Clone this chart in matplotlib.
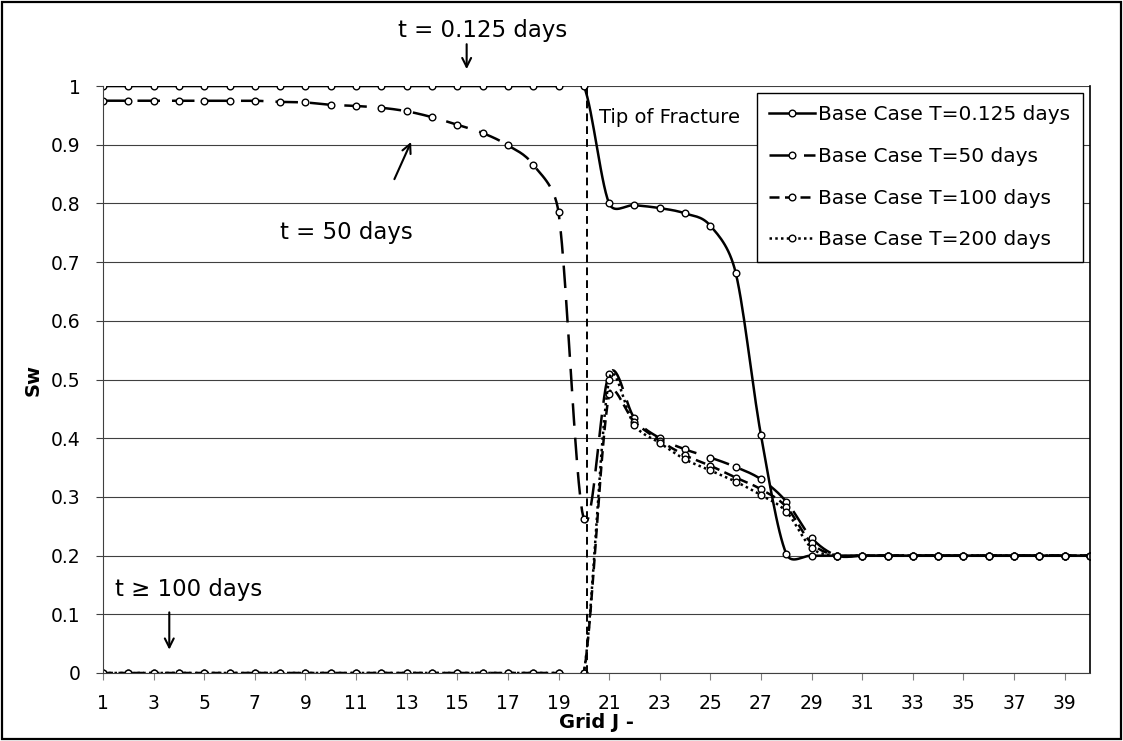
import numpy as np
import matplotlib.pyplot as plt
from matplotlib.patches import Rectangle

# water saturation along grid J for the base case at four times
grid_j = list(range(1, 41))

sw_t0125 = [1.000, 1.000, 1.000, 1.000, 1.000, 1.000, 1.000, 1.000, 1.000, 1.000,
            1.000, 1.000, 1.000, 1.000, 1.000, 1.000, 1.000, 1.000, 1.000, 1.000,
            0.800, 0.797, 0.792, 0.783, 0.762, 0.682, 0.405, 0.203, 0.200, 0.200,
            0.200, 0.200, 0.200, 0.200, 0.200, 0.200, 0.200, 0.200, 0.200, 0.200]

sw_t50 = [0.975, 0.975, 0.975, 0.975, 0.975, 0.975, 0.975, 0.973, 0.972, 0.968,
          0.966, 0.963, 0.957, 0.947, 0.934, 0.920, 0.899, 0.866, 0.785, 0.262,
          0.510, 0.434, 0.400, 0.381, 0.367, 0.351, 0.330, 0.292, 0.230, 0.200,
          0.200, 0.200, 0.200, 0.200, 0.200, 0.200, 0.200, 0.200, 0.200, 0.200]

sw_t100 = [0.000, 0.000, 0.000, 0.000, 0.000, 0.000, 0.000, 0.000, 0.000, 0.000,
           0.000, 0.000, 0.000, 0.000, 0.000, 0.000, 0.000, 0.000, 0.000, 0.000,
           0.475, 0.428, 0.396, 0.371, 0.353, 0.333, 0.313, 0.283, 0.221, 0.200,
           0.200, 0.200, 0.200, 0.200, 0.200, 0.200, 0.200, 0.200, 0.200, 0.200]

sw_t200 = [0.000, 0.000, 0.000, 0.000, 0.000, 0.000, 0.000, 0.000, 0.000, 0.000,
           0.000, 0.000, 0.000, 0.000, 0.000, 0.000, 0.000, 0.000, 0.000, 0.000,
           0.500, 0.422, 0.392, 0.364, 0.345, 0.326, 0.303, 0.275, 0.213, 0.200,
           0.200, 0.200, 0.200, 0.200, 0.200, 0.200, 0.200, 0.200, 0.200, 0.200]

labels = ["Base Case T=0.125 days", "Base Case T=50 days",
          "Base Case T=100 days", "Base Case T=200 days"]
fracture_tip = 20.12


def smooth(x, y, sx, sy, n=16):
    """Bezier through every point, spreadsheet style: tangent arms of 1/6 of
    the neighbour chord, capped at half the segment (measured on screen)"""
    x = np.asarray(x, float)
    y = np.asarray(y, float)
    P = np.column_stack([x, y])
    P = np.vstack([P[:1], P, P[-1:]])
    scale = np.array([sx, sy])
    t = np.linspace(0, 1, n)[:, None]
    xs, ys = [x[:1]], [y[:1]]

    def arm(a, b, seg):
        d = np.hypot(*((b - a) * scale))
        s = np.hypot(*(seg * scale))
        f = 1 / 6 if d / 6 < s / 2 else (s / (2 * d) if d > 0 else 0)
        return (b - a) * f

    for i in range(len(x) - 1):
        p0, p1, p2, p3 = P[i], P[i + 1], P[i + 2], P[i + 3]
        c1 = p1 + arm(p0, p2, p2 - p1)
        c2 = p2 - arm(p1, p3, p2 - p1)
        b = ((1 - t) ** 3) * p1 + 3 * ((1 - t) ** 2) * t * c1 + 3 * (1 - t) * t ** 2 * c2 + t ** 3 * p2
        xs.append(b[1:, 0])
        ys.append(b[1:, 1])
    return np.concatenate(xs), np.concatenate(ys), n - 1


fig = plt.figure(figsize=(11.23, 7.41), dpi=100)
ax = fig.add_axes([0.0917, 0.0918, 0.8789, 0.7921])
ax.set_xlim(1, 40)
ax.set_ylim(0, 1)

# pixels per category and per unit of Sw, for the smoothing
px_x = 0.8789 * 1123 / 39
px_y = 0.7921 * 741

styles = [dict(ls='-'), dict(dashes=(9, 4.8)), dict(dashes=(4, 2.2)), dict(dashes=(1, 1.3))]
for sw, lab, st in zip([sw_t0125, sw_t50, sw_t100, sw_t200], labels, styles):
    xs, ys, step = smooth(grid_j, sw, px_x, px_y)
    ax.plot(xs, ys, color='k', lw=1.8, marker='o', ms=4.8, mfc='white', mec='k',
            mew=1.0, markevery=step, label=lab, **st)

# tip of the fracture
ax.plot([fracture_tip, fracture_tip], [0, 1], color='k', lw=1.4, dashes=(4, 2.6))

ax.set_xticks(range(1, 40, 2))
ax.set_yticks(np.arange(0, 1.01, 0.1))
ax.set_yticklabels(['0', '0.1', '0.2', '0.3', '0.4', '0.5', '0.6', '0.7', '0.8', '0.9', '1'])
ax.yaxis.grid(True, color='#404040', lw=0.8)
ax.set_axisbelow(True)
ax.tick_params(axis='y', length=5, width=0.8, color='#404040', pad=11, labelsize=13.5)
ax.tick_params(axis='x', length=5, width=0.8, color='#808080', pad=10, labelsize=13.5)
ax.spines['top'].set_visible(False)
ax.spines['left'].set_color('#404040')
ax.spines['bottom'].set_color('#404040')
ax.spines['right'].set_linewidth(1.2)

ax.set_xlabel('Grid J -', fontsize=14, fontweight='bold', labelpad=0)
ax.set_ylabel('Sw', fontsize=14, fontweight='bold', labelpad=6)

ax.text(16.0, 1.095, 't = 0.125 days', fontsize=16.5, ha='center', va='center', clip_on=False)
ax.annotate('', xy=(15.37, 1.024), xytext=(15.37, 1.076), annotation_clip=False,
            arrowprops=dict(arrowstyle='->', lw=1.5, color='k', mutation_scale=16))
ax.text(10.6, 0.75, 't = 50 days', fontsize=16.5, ha='center', va='center')
ax.annotate('', xy=(13.22, 0.909), xytext=(12.47, 0.837),
            arrowprops=dict(arrowstyle='->', lw=1.5, color='k', mutation_scale=16))
ax.text(4.4, 0.142, 't \u2265 100 days', fontsize=16.5, ha='center', va='center')
ax.annotate('', xy=(3.62, 0.035), xytext=(3.62, 0.108),
            arrowprops=dict(arrowstyle='->', lw=1.5, color='k', mutation_scale=16))
ax.text(20.6, 0.947, 'Tip of Fracture', fontsize=14, ha='left', va='center')

leg = ax.legend(loc='upper right', bbox_to_anchor=(1083 / 1123, 1 - 93 / 741),
                bbox_transform=fig.transFigure, borderaxespad=0, fontsize=14.5,
                numpoints=1, handlelength=2.3, handletextpad=0.15, labelspacing=1.12,
                borderpad=0.62, fancybox=False, framealpha=1, edgecolor='k')
leg.get_frame().set_linewidth(1.0)

fig.add_artist(Rectangle((0.002, 0.003), 0.996, 0.994, transform=fig.transFigure,
                         fill=False, ec='k', lw=1.6))

fig.savefig('out.png', dpi=100)
